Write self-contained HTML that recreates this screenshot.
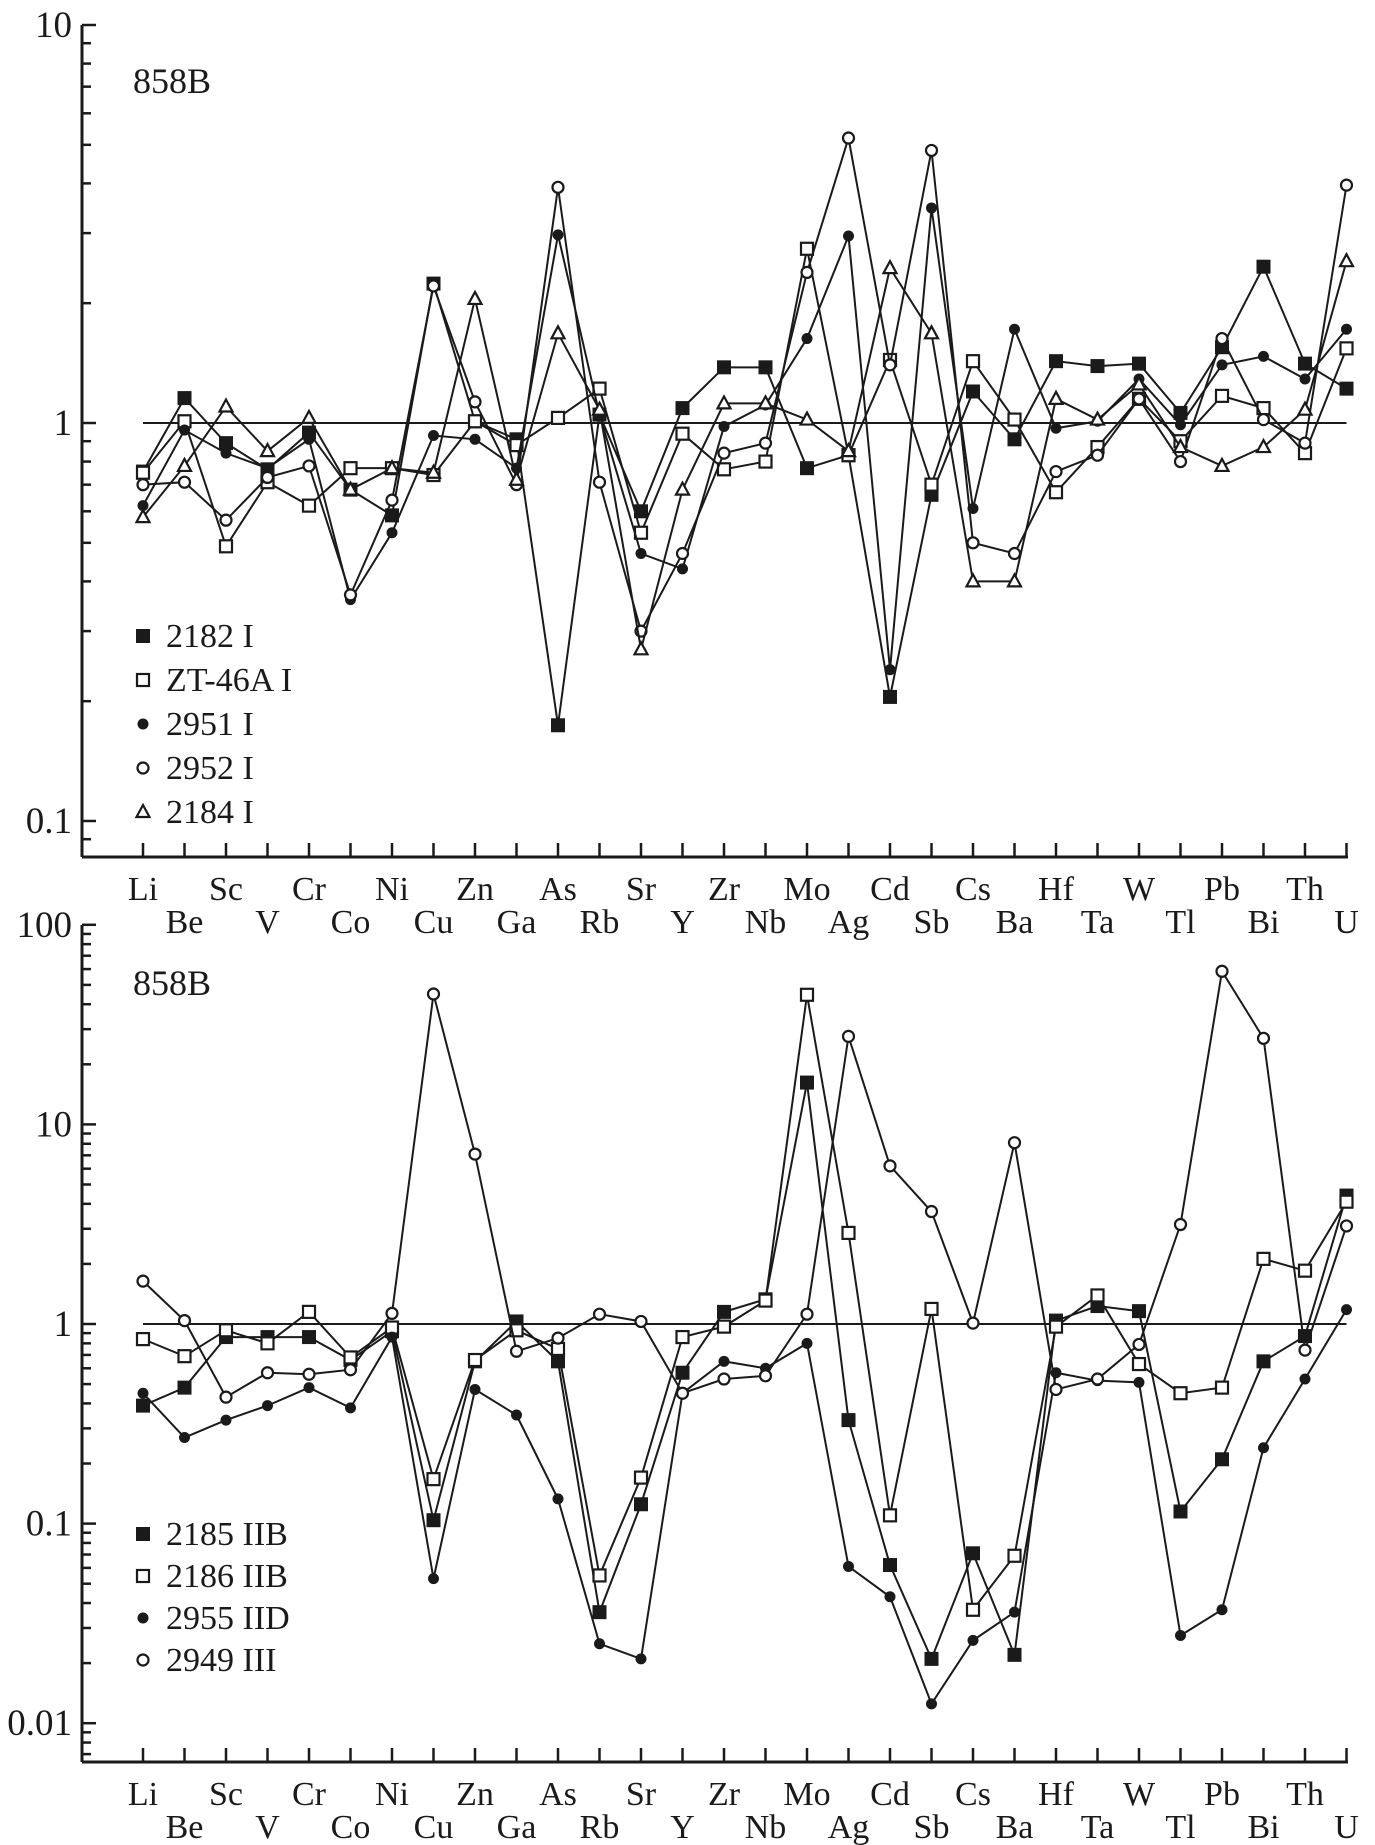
<!DOCTYPE html>
<html><head><meta charset="utf-8"><style>
html,body{margin:0;padding:0;background:#fff}
svg{display:block}
text{font-family:"Liberation Serif",serif;fill:#1a1a1a}
</style></head><body>
<svg id="chart" width="1375" height="1845" viewBox="0 0 1375 1845" xmlns="http://www.w3.org/2000/svg"></svg>
<script>
const elements=["Li","Be","Sc","V","Cr","Co","Ni","Cu","Zn","Ga","As","Rb","Sr","Y","Zr","Nb","Mo","Ag","Cd","Sb","Cs","Ba","Hf","Ta","W","Tl","Pb","Bi","Th","U"];
const topNames=["2182 I","ZT-46A I","2951 I","2952 I","2184 I"];
const topMarkers=["fsq","osq","fci","oci","otri"];
const s2182=[0.755,1.155,0.89,0.765,0.946,0.68,0.586,2.24,1.01,0.91,0.174,1.05,0.60,1.09,1.38,1.38,0.77,0.83,0.205,0.66,1.2,0.91,1.43,1.39,1.41,1.06,1.55,2.47,1.41,1.22];
const sZT46A=[0.75,1.01,0.49,0.71,0.62,0.77,0.77,0.74,1.01,0.88,1.03,1.22,0.53,0.94,0.765,0.80,2.74,0.83,1.44,0.70,1.43,1.02,0.67,0.87,1.15,0.90,1.17,1.09,0.84,1.54];
const s2951=[0.62,0.96,0.84,0.77,0.91,0.36,0.53,0.93,0.91,0.77,2.97,1.05,0.47,0.43,0.98,1.11,1.63,2.95,0.24,3.47,0.61,1.72,0.97,1.01,1.29,0.99,1.4,1.47,1.29,1.72];
const s2952=[0.70,0.71,0.57,0.73,0.78,0.37,0.64,2.21,1.13,0.70,3.91,0.71,0.30,0.47,0.84,0.89,2.39,5.2,1.40,4.84,0.50,0.47,0.755,0.83,1.15,0.80,1.63,1.02,0.89,3.96];
const s2184=[0.58,0.78,1.1,0.85,1.03,0.68,0.77,0.75,2.05,0.72,1.68,1.08,0.27,0.68,1.12,1.12,1.02,0.85,2.45,1.68,0.40,0.40,1.15,1.02,1.25,0.87,0.78,0.87,1.08,2.55];
const botNames=["2185 IIB","2186 IIB","2955 IID","2949 III"];
const botMarkers=["fsq","osq","fci","oci"];
const s2185=[0.39,0.48,0.86,0.86,0.86,0.66,0.92,0.104,0.65,1.03,0.65,0.036,0.125,0.57,1.15,1.33,16.2,0.33,0.062,0.021,0.071,0.022,1.04,1.23,1.16,0.115,0.21,0.65,0.87,4.4];
const s2186=[0.84,0.69,0.93,0.80,1.15,0.68,0.96,0.167,0.66,0.93,0.75,0.055,0.17,0.86,0.97,1.31,44.6,2.86,0.11,1.19,0.037,0.069,0.97,1.39,0.63,0.45,0.48,2.12,1.85,4.1];
const s2955=[0.45,0.27,0.33,0.39,0.48,0.38,0.86,0.053,0.47,0.35,0.133,0.025,0.021,0.45,0.65,0.60,0.80,0.061,0.043,0.0125,0.026,0.036,0.57,0.52,0.51,0.0275,0.037,0.24,0.53,1.18];
const s2949=[1.64,1.04,0.43,0.57,0.56,0.59,1.13,45,7.1,0.73,0.85,1.12,1.03,0.45,0.53,0.55,1.12,27.6,6.2,3.66,1.01,8.1,0.47,0.53,0.79,3.15,58.5,27,0.74,3.1];
const topTicks=[0.1,1,10];
const topTickLabels=["0.1","1","10"];
const botTicks=[0.01,0.1,1,10,100];
const botTickLabels=["0.01","0.1","1","10","100"];

const svg=document.getElementById('chart');
const NS="http://www.w3.org/2000/svg";
function mk(tag,attrs,parent){const e=document.createElementNS(NS,tag);for(const k in attrs)e.setAttribute(k,attrs[k]);(parent||svg).appendChild(e);return e;}
const X0=143,DX=41.5;
function xs(i){return X0+i*DX;}

function panel(cfg){
  const g=mk('g',{});
  
  
  const ys=v=>cfg.y1-Math.log10(v)*cfg.dec;
  const AX=82;
  const ya=mk('line',{x1:AX,y1:cfg.ytop,x2:AX,y2:cfg.ybot,stroke:'#1a1a1a','stroke-width':3},g);
  
  
  const xa=mk('line',{x1:AX,y1:cfg.ybot,x2:1348,y2:cfg.ybot,stroke:'#1a1a1a','stroke-width':3},g);
  
  
  const lo=Math.floor(Math.log10(cfg.vmin)),hi=Math.log10(cfg.ticks[cfg.ticks.length-1]);
  for(let d=lo;d<hi;d++){for(let m=1;m<10;m++){const v=m*Math.pow(10,d);const y=ys(v);if(y>cfg.ybot-2||y<cfg.ytop-1)continue;
    mk('line',{x1:AX,y1:y,x2:AX+(m===1?14:9),y2:y,stroke:'#1a1a1a','stroke-width':2.5},g);}}
  mk('line',{x1:AX,y1:ys(cfg.ticks[cfg.ticks.length-1]),x2:AX+14,y2:ys(cfg.ticks[cfg.ticks.length-1]),stroke:'#1a1a1a','stroke-width':2.5},g);
  cfg.ticks.forEach((v,i)=>{const t=mk('text',{x:AX-10,y:ys(v)+12,'text-anchor':'end','font-size':37},g);t.textContent=cfg.tickLabels[i];
    
    });
  elements.forEach((el,i)=>{const x=xs(i);mk('line',{x1:x,y1:cfg.ybot,x2:x,y2:cfg.ybot-14,stroke:'#1a1a1a','stroke-width':2.5},g);
    const t=mk('text',{x:x,y:cfg.ybot+(i%2===0?43:76),'text-anchor':'middle','font-size':34},g);t.textContent=el;
    
    });
  const rl=mk('line',{x1:xs(0),y1:ys(1),x2:xs(29),y2:ys(1),stroke:'#1a1a1a','stroke-width':2},g);
  
  
  const lab=mk('text',{x:133,y:cfg.labY,'font-size':36},g);lab.textContent='858B';
  
  
  cfg.series.forEach((s,si)=>{
    const sg=mk('g',{},g);
    
    
    const pts=s.map((v,i)=>xs(i)+','+ys(v)).join(' ');
    mk('polyline',{points:pts,fill:'none',stroke:'#1a1a1a','stroke-width':2},sg);
    s.forEach((v,i)=>marker(cfg.markers[si],xs(i),ys(v),sg));
    const ly=cfg.legY+si*cfg.legDY;
    const lg=mk('g',{},g);
    
    
    marker(cfg.markers[si],143,ly-11,lg);
    const lt=mk('text',{x:166,y:ly,'font-size':34},lg);lt.textContent=cfg.names[si];
  });
}
function marker(type,x,y,p){
  let e;
  if(type==='fsq')e=mk('rect',{x:x-7,y:y-7,width:14,height:14,fill:'#1a1a1a'},p);
  else if(type==='osq')e=mk('rect',{x:x-6,y:y-6,width:12,height:12,fill:'#fff',stroke:'#1a1a1a','stroke-width':2.2},p);
  else if(type==='fci')e=mk('circle',{cx:x,cy:y,r:5.5,fill:'#1a1a1a'},p);
  else if(type==='oci')e=mk('circle',{cx:x,cy:y,r:5.5,fill:'#fff',stroke:'#1a1a1a','stroke-width':2.2},p);
  else e=mk('polygon',{points:(x)+','+(y-7)+' '+(x-6.5)+','+(y+5)+' '+(x+6.5)+','+(y+5),fill:'#fff',stroke:'#1a1a1a','stroke-width':2.2},p);
  
  
}
panel({name:'top-panel',y1:423,dec:398,ytop:25,ybot:857,vmin:0.07,ticks:topTicks,tickLabels:topTickLabels,labY:93,
  series:[s2182,sZT46A,s2951,s2952,s2184],names:topNames,markers:topMarkers,legY:647,legDY:44});
panel({name:'bottom-panel',y1:1324,dec:199.6,ytop:925,ybot:1762,vmin:0.006,ticks:botTicks,tickLabels:botTickLabels,labY:995,
  series:[s2185,s2186,s2955,s2949],names:botNames,markers:botMarkers,legY:1545,legDY:42});
</script>
</body></html>
